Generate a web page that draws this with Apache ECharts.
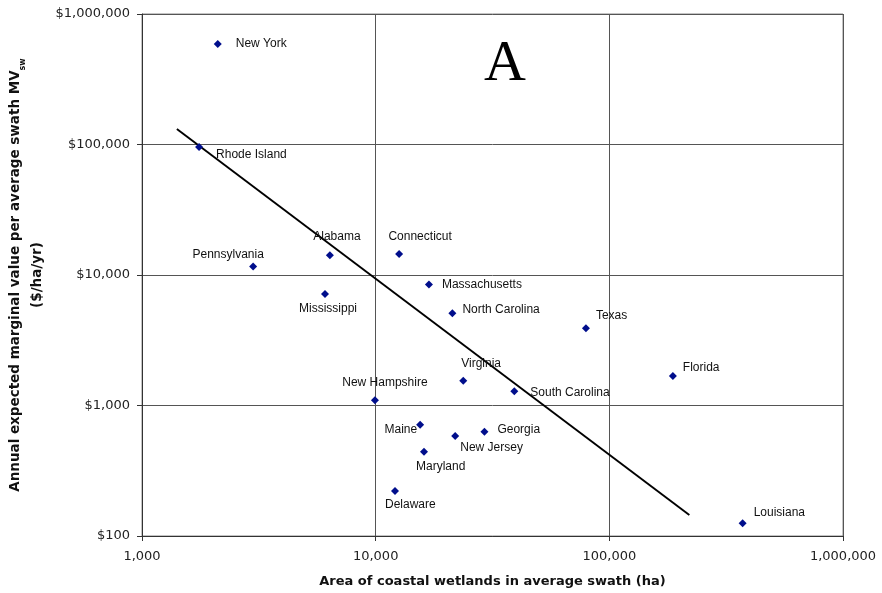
<!DOCTYPE html>
<html>
<head>
<meta charset="utf-8">
<script src="https://cdn.jsdelivr.net/npm/echarts@6/dist/echarts.min.js"></script>
<style>
html,body{margin:0;padding:0;background:#fff;}
#chart{width:882px;height:593px;}
</style>
</head>
<body>
<div id="chart"></div>
<script>
// ---- data ----
const states = ['New York','Rhode Island','Pennsylvania','Alabama','Connecticut','Mississippi',
  'Massachusetts','North Carolina','Texas','Florida','Virginia','New Hampshire','South Carolina',
  'Maine','Georgia','New Jersey','Maryland','Delaware','Louisiana'];
const areaHa = [2110, 1755, 2990, 6370, 12600, 6070, 16900, 21300, 79400, 187000, 23700, 9930, 39200,
  15500, 29200, 21900, 16100, 12100, 372000];
const valuePerHa = [589000, 95700, 11600, 14200, 14500, 7150, 8440, 5090, 3910, 1680, 1550, 1096, 1285,
  713, 629, 583, 443, 221, 125];
const trendArea = [1410, 220000];
const trendValue = [131500, 145];
const xTicks = [1000, 10000, 100000, 1000000];
const yTicks = [100, 1000, 10000, 100000, 1000000];

// label placement (layout only): [dx, dy, align]
const labelPlace = {
  'New York':[18,0,'left'], 'Rhode Island':[17,8,'left'], 'Pennsylvania':[-25,-12,'center'],
  'Alabama':[7,-18,'center'], 'Connecticut':[21,-17,'center'], 'Mississippi':[3,15,'center'],
  'Massachusetts':[13,0,'left'], 'North Carolina':[10,-4,'left'], 'Texas':[10,-13,'left'],
  'Florida':[10,-8,'left'], 'Virginia':[-2,-17,'left'], 'New Hampshire':[10,-18,'center'],
  'South Carolina':[16,1,'left'], 'Maine':[-3,5,'right'], 'Georgia':[13,-2,'left'],
  'New Jersey':[5,12,'left'], 'Maryland':[-8,15,'left'], 'Delaware':[-10,14,'left'],
  'Louisiana':[11,-11,'left']
};

function commas(v){
  const s = String(Math.round(v));
  return s.replace(/\B(?=(\d{3})+(?!\d))/g, ',');
}

const scatterData = states.map((s,i)=>{
  const p = labelPlace[s];
  return {
    name: s,
    value: [areaHa[i], valuePerHa[i]],
    label: {show:true, position:'inside', align:p[2], verticalAlign:'middle', offset:[p[0],p[1]]}
  };
});
const trendData = trendArea.map((a,i)=>[a, trendValue[i]]);

const chart = echarts.init(document.getElementById('chart'), null, {renderer:'canvas'});
const tickFont = {fontFamily:'DejaVu Sans', fontSize:13, color:'#222'};
chart.setOption({
  animation:false,
  backgroundColor:'#fff',
  grid:{left:142, right:39, top:14, bottom:57, show:true, borderColor:'#888', borderWidth:1},
  xAxis:{
    type:'log', logBase:10, min:xTicks[0], max:xTicks[xTicks.length-1],
    name:'Area of coastal wetlands in average swath (ha)',
    nameLocation:'middle', nameGap:39,
    nameTextStyle:{fontFamily:'DejaVu Sans', fontWeight:'bold', fontSize:13, color:'#111'},
    axisLine:{lineStyle:{color:'#333', width:1}},
    axisTick:{show:true, length:5, lineStyle:{color:'#333'}},
    axisLabel:Object.assign({margin:14, formatter:v=>commas(v)}, tickFont),
    splitLine:{show:true, lineStyle:{color:'#555', width:1}},
    minorTick:{show:false}
  },
  yAxis:{
    type:'log', logBase:10, min:yTicks[0], max:yTicks[yTicks.length-1],
    name:'{t|Annual expected marginal value per average swath MV}{s|sw}\n{t|($/ha/yr)}',
    nameLocation:'middle', nameGap:91, nameRotate:90,
    nameTextStyle:{align:'center', rich:{
      t:{fontFamily:'DejaVu Sans', fontWeight:'bold', fontSize:13.5, color:'#111', lineHeight:22},
      s:{fontFamily:'DejaVu Sans', fontWeight:'bold', fontSize:8, color:'#111', verticalAlign:'bottom', lineHeight:20}
    }},
    axisLine:{show:true, lineStyle:{color:'#333', width:1}},
    axisTick:{show:true, length:5, lineStyle:{color:'#333'}},
    axisLabel:Object.assign({margin:12, formatter:v=>'$'+commas(v)}, tickFont),
    splitLine:{show:true, lineStyle:{color:'#555', width:1}}
  },
  graphic:[{
    type:'text', x:505, y:65,
    style:{text:'A', fontFamily:'Liberation Serif', fontSize:58, fill:'#000', textAlign:'center', textVerticalAlign:'middle'}
  }],
  series:[
    {
      type:'line', data:trendData, showSymbol:false, symbol:'none',
      lineStyle:{color:'#000', width:1.9}, silent:true, z:2
    },
    {
      type:'scatter', data:scatterData, symbol:'diamond', symbolSize:8,
      itemStyle:{color:'#000e8c', opacity:1},
      label:{show:true, formatter:'{b}', fontFamily:'Liberation Sans', fontSize:12, color:'#111'},
      z:3
    }
  ]
});
</script>
</body>
</html>
